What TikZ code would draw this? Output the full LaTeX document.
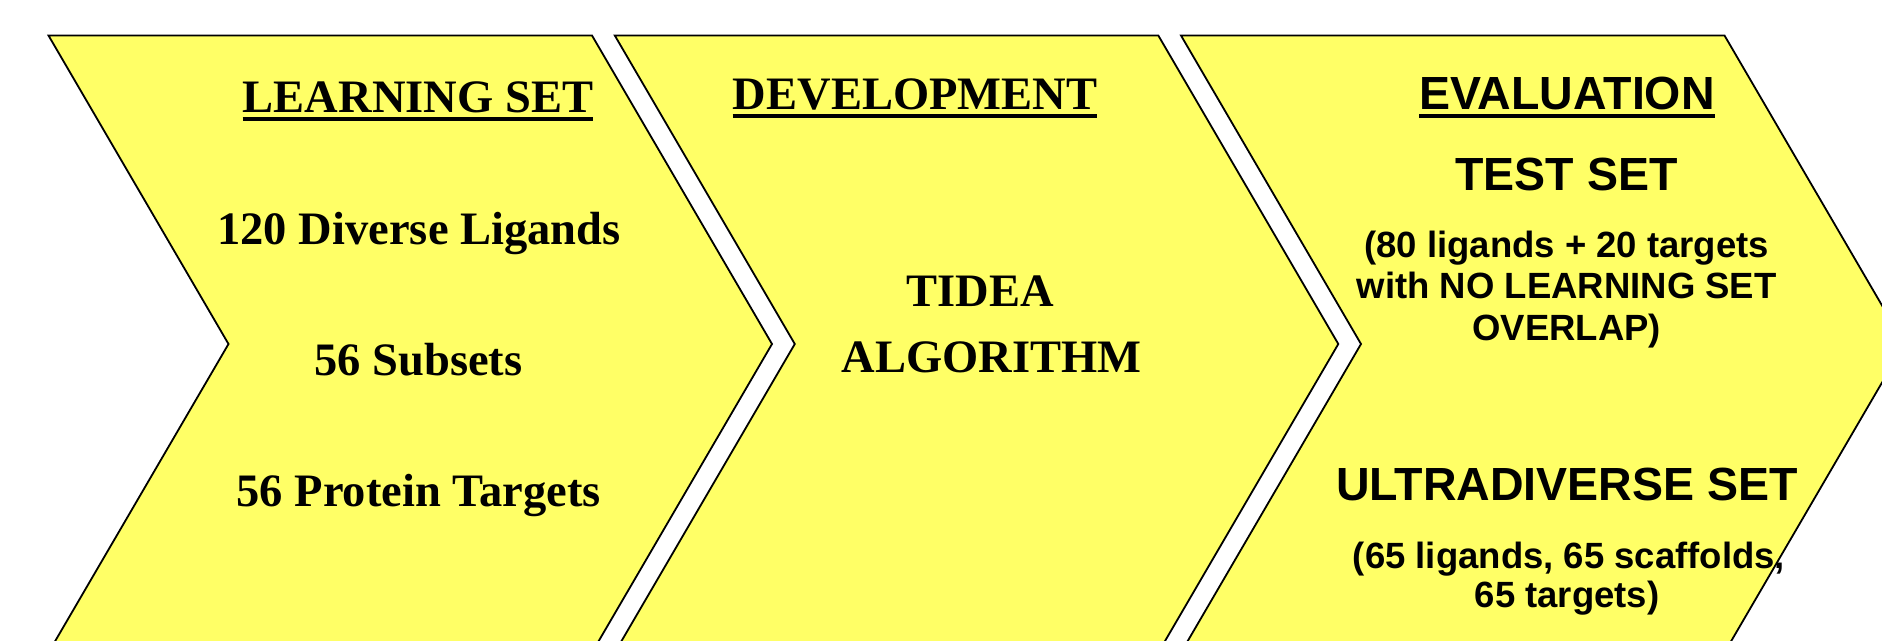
\documentclass[tikz,border=0pt]{standalone}
\usepackage{fontspec}
\setmainfont{Liberation Serif}
\newfontfamily\arialfont{Liberation Sans}
\definecolor{chevfill}{RGB}{255,255,102}
\tikzset{
  chev/.style={fill=chevfill, draw=black, line width=1.8, line join=miter},
  sertxt/.style={anchor=base, inner sep=0pt, font=\fontsize{46.5}{46.5}\selectfont\bfseries},
  sanshead/.style={anchor=base, inner sep=0pt, font=\arialfont\fontsize{46.5}{46.5}\selectfont\bfseries},
  sanssmall/.style={anchor=base, inner sep=0pt, font=\arialfont\fontsize{36.5}{36.5}\selectfont\bfseries},
  uline/.style={line width=4.2}
}
\begin{document}
\begin{tikzpicture}[x=1pt,y=-1pt]
\useasboundingbox (0,0) rectangle (1882,640);
\clip (0,0) rectangle (1882,640);
% chevrons
\foreach \xo in {48.5,614.8,1181} {
  \draw[chev] (\xo,35.5) -- (\xo+543.5,35.5) -- (\xo+723.5,344) -- (\xo+543.5,652.5)
    -- (\xo,652.5) -- (\xo+180,344) -- cycle;
}
% chevron 1 texts
\node[sertxt] (ls) at (418,112.5) {LEARNING SET};
\draw[uline] ([yshift=-6.3pt]ls.base west) -- ([yshift=-6.3pt]ls.base east);
\node[sertxt] (lig) at (419,244) {120 Diverse Ligands};
\node[sertxt] (sub) at (418.5,375.5) {56 Subsets};
\node[sertxt] (prot) at (418.6,506) {56 Protein Targets};
% chevron 2 texts
\node[sertxt] (dev) at (915,109.4) {DEVELOPMENT};
\draw[uline] ([yshift=-6.3pt]dev.base west) -- ([yshift=-6.3pt]dev.base east);
\node[sertxt] (tidea) at (980,306) {TIDEA};
\node[sertxt] (algo) at (991.5,372) {ALGORITHM};
% chevron 3 texts
\node[sanshead] (eval) at (1567,109.4) {EVALUATION};
\draw[uline] ([yshift=-6.2pt]eval.base west) -- ([yshift=-6.2pt]eval.base east);
\node[sanshead] (test) at (1566.5,190) {TEST SET};
\node[sanssmall] (t1) at (1566.7,257) {(80 ligands + 20 targets};
\node[sanssmall] (t2) at (1566.7,298) {with NO LEARNING SET};
\node[sanssmall] (t3) at (1566.7,340) {OVERLAP)};
\node[sanshead] (ultra) at (1567,500.5) {ULTRADIVERSE SET};
\node[sanssmall] (u1) at (1569,568) {(65 ligands, 65 scaffolds,};
\node[sanssmall] (u2) at (1567,607) {65 targets)};
\end{tikzpicture}
\end{document}
